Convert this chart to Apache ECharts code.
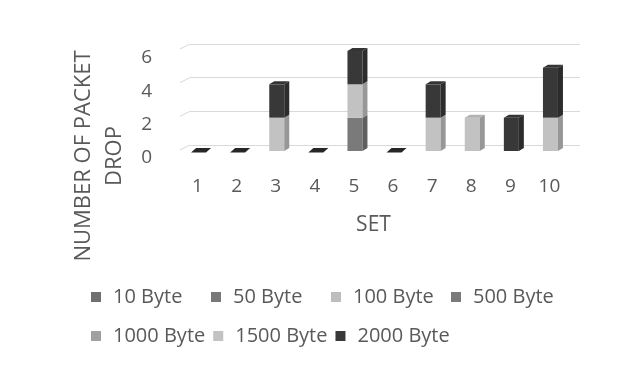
<!DOCTYPE html>
<html>
<head>
<meta charset="utf-8">
<script src="https://cdn.jsdelivr.net/npm/echarts@6/dist/echarts.min.js"></script>
<style>
  html, body { margin: 0; padding: 0; background: #ffffff; }
  #chart { width: 636px; height: 368px; }
</style>
</head>
<body>
<div id="chart"></div>
<script>
// Packet drops per test set, split by packet size
const sets = ['1', '2', '3', '4', '5', '6', '7', '8', '9', '10'];
const yMin = 0;
const yMax = 6;
const yStep = 2;
const drop10   = [0, 0, 0, 0, 0, 0, 0, 0, 0, 0];
const drop50   = [0, 0, 0, 0, 0, 0, 0, 0, 0, 0];
const drop100  = [0, 0, 0, 0, 0, 0, 0, 0, 0, 0];
const drop500  = [0, 0, 0, 0, 2, 0, 0, 0, 0, 0];
const drop1000 = [0, 0, 0, 0, 0, 0, 0, 0, 0, 0];
const drop1500 = [0, 0, 2, 0, 2, 0, 2, 2, 0, 2];
const drop2000 = [0, 0, 2, 0, 2, 0, 2, 0, 2, 3];
const sizeNames = ['10 Byte', '50 Byte', '100 Byte', '500 Byte', '1000 Byte', '1500 Byte', '2000 Byte'];

const sizeValues = [drop10, drop50, drop100, drop500, drop1000, drop1500, drop2000];
const palette = ['#6f6f6f', '#787878', '#bdbdbd', '#7a7a7a', '#a0a0a0', '#c2c2c2', '#383838'];

// Pseudo-3D column geometry (pixels)
const BAR_W = 15, DEPTH_X = 5, DEPTH_Y = 3, BAR_SHIFT = 1;
const FONT = '"Open Sans", "Noto Sans", sans-serif';
const TEXT = '#595959';

function shade(hex, f) {
  const n = parseInt(hex.slice(1), 16);
  const c = [(n >> 16) & 255, (n >> 8) & 255, n & 255].map(v => Math.max(0, Math.min(255, Math.round(v * f))));
  return 'rgb(' + c.join(',') + ')';
}

// Build stacked segments [category, bottom, top, drawTopFace]
const totals = sets.map((_, i) => sizeValues.reduce((s, arr) => s + arr[i], 0));
const running = sets.map(() => 0);
const segments = sizeValues.map((arr, si) => arr.map((v, i) => {
  const lo = running[i];
  running[i] += v;
  const hi = running[i];
  const isTop = (v > 0 && hi === totals[i]) || (totals[i] === 0 && si === sizeValues.length - 1);
  return [i, lo, hi, isTop ? 1 : 0];
}));

function makeRender(color) {
  return function (params, api) {
    const cat = api.value(0), lo = api.value(1), hi = api.value(2), top = api.value(3);
    if (hi <= lo && !top) return null;
    const pLo = api.coord([cat, lo]);
    const pHi = api.coord([cat, hi]);
    const x0 = pLo[0] + BAR_SHIFT - BAR_W / 2, x1 = x0 + BAR_W;
    const yb = pLo[1], yt = pHi[1];
    const children = [];
    if (hi > lo) {
      children.push({ type: 'rect', shape: { x: x0, y: yt, width: BAR_W, height: yb - yt },
        style: { fill: color } });
      children.push({ type: 'polygon', shape: { points: [[x1, yb], [x1 + DEPTH_X, yb - DEPTH_Y], [x1 + DEPTH_X, yt - DEPTH_Y], [x1, yt]] },
        style: { fill: shade(color, 0.78) } });
    }
    if (top) {
      const thick = hi > lo ? 0 : 1.5;
      children.push({ type: 'polygon', shape: { points: [[x0, yt + thick], [x0 + DEPTH_X, yt - DEPTH_Y], [x1 + DEPTH_X, yt - DEPTH_Y], [x1, yt + thick]] },
        style: { fill: hi > lo ? shade(color, 0.92) : shade(color, 0.7) } });
    }
    return { type: 'group', children: children };
  };
}

const chart = echarts.init(document.getElementById('chart'), null, { renderer: 'canvas' });

const series = sizeNames.map((name, si) => ({
  name: name,
  type: 'custom',
  xAxisIndex: 0,
  yAxisIndex: 0,
  itemStyle: { color: palette[si] },
  renderItem: makeRender(palette[si]),
  encode: { x: 0, y: 2 },
  data: segments[si],
  z: 3
}));

// Side-wall edges of the back gridlines
series.push({
  type: 'custom',
  xAxisIndex: 1,
  yAxisIndex: 1,
  silent: true,
  renderItem: function (params, api) {
    const x = params.coordSys.x;
    const p = api.coord([0, api.value(0)]);
    return { type: 'line', shape: { x1: x, y1: p[1], x2: x - 10, y2: p[1] + 5 },
      style: { stroke: '#d9d9d9', lineWidth: 1 } };
  },
  data: [0, 2, 4, 6].map(v => [v]),
  encode: { y: 0 },
  z: 1
});

const legendText = { fontFamily: FONT, fontSize: 20, color: TEXT, lineHeight: 22 };

chart.setOption({
  backgroundColor: '#ffffff',
  animation: false,
  grid: [
    { left: 178, right: 67, top: 51, bottom: 217, containLabel: false, outerBoundsMode: 'none' },
    { left: 190, right: 56, top: 44, bottom: 223, containLabel: false, outerBoundsMode: 'none' }
  ],
  xAxis: [
    {
      type: 'category', gridIndex: 0, data: sets,
      axisLine: { show: false }, axisTick: { show: false },
      axisLabel: { fontFamily: FONT, fontSize: 19, color: TEXT, margin: 26 },
      name: 'SET', nameLocation: 'middle', nameGap: 64,
      nameTextStyle: { fontFamily: FONT, fontSize: 21, color: TEXT }
    },
    {
      type: 'category', gridIndex: 1, data: sets, show: false
    }
  ],
  yAxis: [
    {
      type: 'value', gridIndex: 0, min: yMin, max: yMax, interval: yStep,
      axisLine: { show: false }, axisTick: { show: false }, splitLine: { show: false },
      axisLabel: { fontFamily: FONT, fontSize: 19, color: TEXT, margin: 26, verticalAlign: 'top', lineHeight: 14 },
      name: 'NUMBER OF PACKET\nDROP', nameLocation: 'middle', nameGap: 42,
      nameTextStyle: { fontFamily: FONT, fontSize: 22, color: TEXT, lineHeight: 31, align: 'center',
        padding: [0, 110, 0, 0] }
    },
    {
      type: 'value', gridIndex: 1, min: yMin, max: yMax, interval: yStep,
      axisLine: { show: false }, axisTick: { show: false }, axisLabel: { show: false },
      splitLine: { show: true, lineStyle: { color: '#d9d9d9', width: 1 } }
    }
  ],
  legend: [
    {
      data: sizeNames.slice(0, 4), left: 86, top: 281, orient: 'horizontal',
      icon: 'rect', itemWidth: 10, itemHeight: 10, itemGap: 0,
      textStyle: Object.assign({ width: 98, padding: [0, 0, 0, 7] }, legendText)
    },
    {
      data: sizeNames.slice(4), left: 86, top: 320, orient: 'horizontal',
      icon: 'rect', itemWidth: 10, itemHeight: 10, itemGap: 8,
      textStyle: Object.assign({ padding: [0, 0, 0, 7] }, legendText)
    }
  ],
  series: series
});
</script>
</body>
</html>
